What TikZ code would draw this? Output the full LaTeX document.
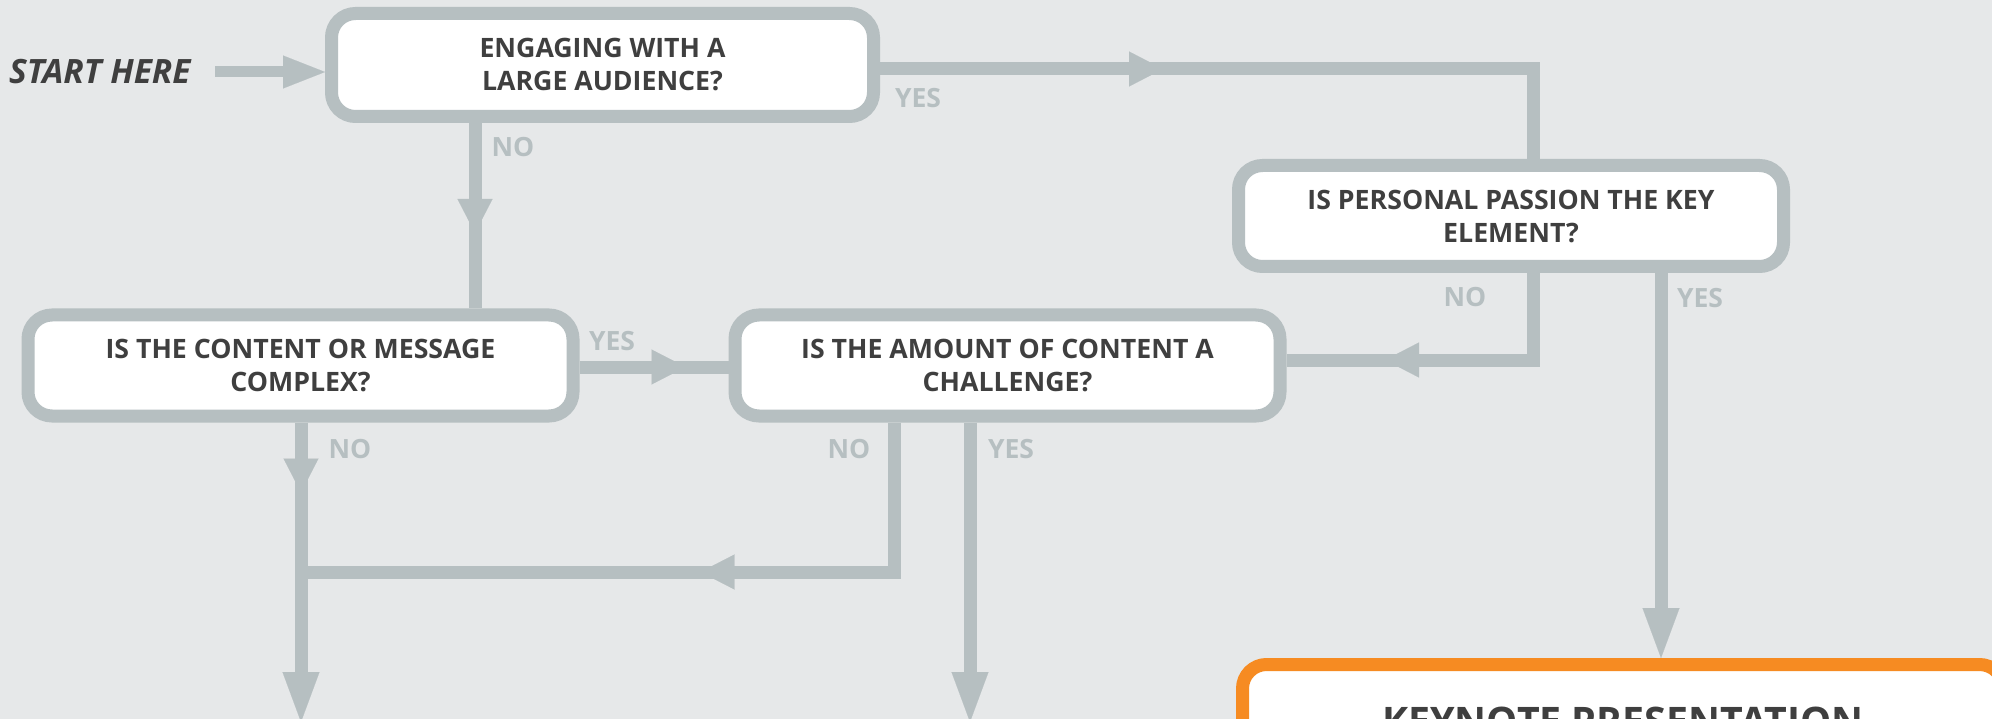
\documentclass[tikz,border=0pt]{standalone}
\usepackage{fontspec}
\newfontfamily\osans{Open Sans}
\usetikzlibrary{arrows.meta,decorations.markings}
\definecolor{bg}{HTML}{E6E8E9}
\definecolor{lg}{HTML}{B6BFC1}
\definecolor{tx}{HTML}{3F3F3F}
\definecolor{org}{HTML}{F68B22}
\begin{document}
\begin{tikzpicture}[x=1pt,y=-1pt,
  conn/.style={draw=lg,line width=13pt},
  endarr/.style={-{Triangle[width=37pt,length=50pt,line width=0.1pt]}},
  midarr/.style={postaction={decorate},decoration={markings,
     mark=at position #1 with {\arrow{Triangle[width=35pt,length=34pt,line width=0.1pt]}}}},
  qbox/.style={draw=lg,line width=13pt,fill=white,rounded corners=24pt,
     minimum width=545pt,minimum height=101pt,align=center,inner sep=0pt,
     text=tx,font=\osans\bfseries\fontsize{26.7}{33}\selectfont},
  ebox/.style={qbox,draw=org,minimum width=761pt,
     font=\osans\bfseries\fontsize{39.3}{44}\selectfont},
  lab/.style={text=lg,inner sep=0pt,font=\osans\bfseries\fontsize{26.5}{30}\selectfont}]
\fill[bg] (0,0) rectangle (1992,719);
\useasboundingbox (0,0) rectangle (1992,719);

% boxes
\node[qbox,minimum width=542pt,minimum height=103pt] (A) at (602.5,65) {ENGAGING WITH A\\LARGE AUDIENCE?};
\node[qbox] (B) at (1511,216) {IS PERSONAL PASSION THE KEY\\ELEMENT?};
\node[qbox] (C) at (300.5,365.5) {IS THE CONTENT OR MESSAGE\\COMPLEX?};
\node[qbox] (D) at (1007.5,365.5) {IS THE AMOUNT OF CONTENT A\\CHALLENGE?};
\node[ebox,minimum height=113pt] (E) at (1623,721) {KEYNOTE PRESENTATION};

\node[text=tx,inner sep=0pt,anchor=west,font=\osans\bfseries\itshape\fontsize{33.5}{38}\selectfont] (start) at (9,72) {START HERE};

% routing coordinates
\coordinate (ab) at (1533,69);
\coordinate (ac) at (475,200);
\coordinate (cd) at (600,367);
\coordinate (bd) at (1533,360);
\coordinate (be) at (1661,500);
\coordinate (cbot) at (301,722);
\coordinate (dn) at (894,572);
\coordinate (dbot) at (970,722);
\coordinate (st) at (215,72);

% connectors
\draw[conn,line width=11pt,-{Triangle[width=33pt,length=42pt,line width=0.1pt]}]
  (st) -- (st -| A.west);
\draw[conn,midarr=283pt] (A.east |- ab) -- (ab) -- (ab |- B.north);
\draw[conn,midarr=110pt] (ac |- A.south) -- (ac |- C.north);
\draw[conn,midarr=106pt] (C.east |- cd) -- (D.west |- cd);
\draw[conn,midarr=235pt] (bd |- B.south) -- (bd) -- (D.east |- bd);
\draw[conn,endarr] (be |- B.south) -- (be |- E.north);
\draw[conn,endarr,midarr=70pt] (cbot |- C.south) -- (cbot);
\draw[conn,midarr=343pt] (dn |- D.south) -- (dn) -- (cbot |- dn);
\draw[conn,endarr] (dbot |- D.south) -- (dbot);

% labels
\node[lab] (yA) at (918,98) {YES};
\node[lab] (nA) at (513,147) {NO};
\node[lab] (yC) at (612,341) {YES};
\node[lab] (nB) at (1465,297) {NO};
\node[lab] (yB) at (1700,298) {YES};
\node[lab] (nC) at (350,449) {NO};
\node[lab] (nD) at (849,449) {NO};
\node[lab] (yD) at (1011,449) {YES};
\end{tikzpicture}
\end{document}
